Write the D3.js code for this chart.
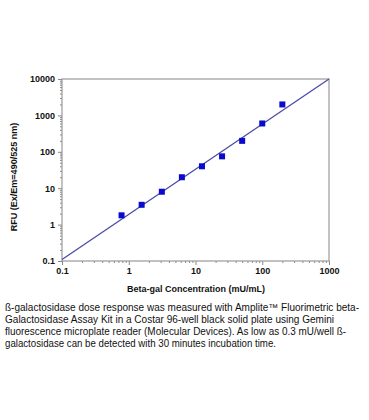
<!DOCTYPE html>
<html>
<head>
<meta charset="utf-8">
<script src="https://cdn.jsdelivr.net/npm/d3@7"></script>
<style>
  body { margin: 0; background: #fff; }
  text { font-family: "Liberation Sans", Arial, sans-serif; }
</style>
</head>
<body>
<div id="chart"></div>
<script>
const chart_width = 369;
const chart_height = 420;
const margin_left = 62, margin_top = 79, plot_right = 329, plot_bottom = 261;

// beta-gal concentration (mU/mL) and RFU readings
const conc = [0.78, 1.56, 3.13, 6.25, 12.5, 25, 50, 100, 200];
const rfu = [1.8, 3.5, 8, 20, 40, 75, 200, 600, 2000];
// fitted line endpoints
const fit_x = [0.1, 1000];
const fit_y = [0.11, 10000];
const x_ticks = [0.1, 1, 10, 100, 1000];
const y_ticks = [0.1, 1, 10, 100, 1000, 10000];
const caption = [
  "ß-galactosidase dose response was measured with Amplite™ Fluorimetric beta-",
  "Galactosidase Assay Kit in a Costar 96-well black solid plate using Gemini",
  "fluorescence microplate reader (Molecular Devices). As low as 0.3 mU/well ß-",
  "galactosidase can be detected with 30 minutes incubation time."
];
const caption_widths = [354, 329, 341, 271];

const svg = d3.select("#chart").append("svg")
  .attr("width", chart_width)
  .attr("height", chart_height);

const x = d3.scaleLog().domain([0.1, 1000]).range([margin_left, plot_right]);
const y = d3.scaleLog().domain([0.1, 10000]).range([plot_bottom, margin_top]);

// minor ticks
const minor_x = [];
for (let d = 0.1; d < 1000; d *= 10) for (let k = 2; k <= 9; k++) minor_x.push(d * k);
const minor_y = [];
for (let d = 0.1; d < 10000; d *= 10) for (let k = 2; k <= 9; k++) minor_y.push(d * k);

svg.append("g")
  .attr("transform", `translate(0,${plot_bottom})`)
  .call(d3.axisBottom(x).tickValues(minor_x).tickSize(2).tickFormat(""))
  .call(g => g.select(".domain").remove())
  .call(g => g.selectAll("line").attr("stroke", "#888"));

svg.append("g")
  .attr("transform", `translate(${margin_left},0)`)
  .call(d3.axisLeft(y).tickValues(minor_y).tickSize(2).tickFormat(""))
  .call(g => g.select(".domain").remove())
  .call(g => g.selectAll("line").attr("stroke", "#888"));

const xAxis = svg.append("g")
  .attr("transform", `translate(0,${plot_bottom})`)
  .call(d3.axisBottom(x).tickValues(x_ticks).tickSize(4).tickPadding(3).tickFormat(d => d3.format("~g")(d)));
xAxis.select(".domain").remove();
xAxis.selectAll("line").attr("stroke", "#888");
xAxis.selectAll("text").attr("font-size", 9).attr("font-weight", "bold").attr("fill", "#111");

const yAxis = svg.append("g")
  .attr("transform", `translate(${margin_left},0)`)
  .call(d3.axisLeft(y).tickValues(y_ticks).tickSize(4).tickPadding(3).tickFormat(d => d3.format("~g")(d)));
yAxis.select(".domain").remove();
yAxis.selectAll("line").attr("stroke", "#888");
yAxis.selectAll("text").attr("font-size", 9).attr("font-weight", "bold").attr("fill", "#111");

// frame
svg.append("rect")
  .attr("x", margin_left).attr("y", margin_top)
  .attr("width", plot_right - margin_left)
  .attr("height", plot_bottom - margin_top)
  .attr("fill", "none").attr("stroke", "#999").attr("stroke-width", 1.2);

// fit line
svg.append("line")
  .attr("x1", x(fit_x[0])).attr("y1", y(fit_y[0]))
  .attr("x2", x(fit_x[1])).attr("y2", y(fit_y[1]))
  .attr("stroke", "#4b4ba8").attr("stroke-width", 1.3);

// points
svg.selectAll(".pt")
  .data(conc)
  .join("rect")
  .attr("class", "pt")
  .attr("x", (d, i) => x(d) - 3)
  .attr("y", (d, i) => y(rfu[i]) - 3)
  .attr("width", 6).attr("height", 6)
  .attr("fill", "#0a0acc");

svg.append("text")
  .attr("x", 196)
  .attr("y", 292)
  .attr("text-anchor", "middle")
  .attr("font-size", 9).attr("font-weight", "bold").attr("fill", "#111")
  .text("Beta-gal Concentration (mU/mL)");

svg.append("text")
  .attr("transform", "translate(17,177) rotate(-90)")
  .attr("text-anchor", "middle")
  .attr("font-size", 9).attr("font-weight", "bold").attr("fill", "#111")
  .text("RFU (Ex/Em=490/525 nm)");

svg.selectAll(".cap")
  .data(caption)
  .join("text")
  .attr("class", "cap")
  .attr("x", 5)
  .attr("y", (d, i) => 311 + i * 12)
  .attr("font-size", 10).attr("fill", "#111")
  .attr("textLength", (d, i) => caption_widths[i])
  .attr("lengthAdjust", "spacingAndGlyphs")
  .text(d => d);
</script>
</body>
</html>
